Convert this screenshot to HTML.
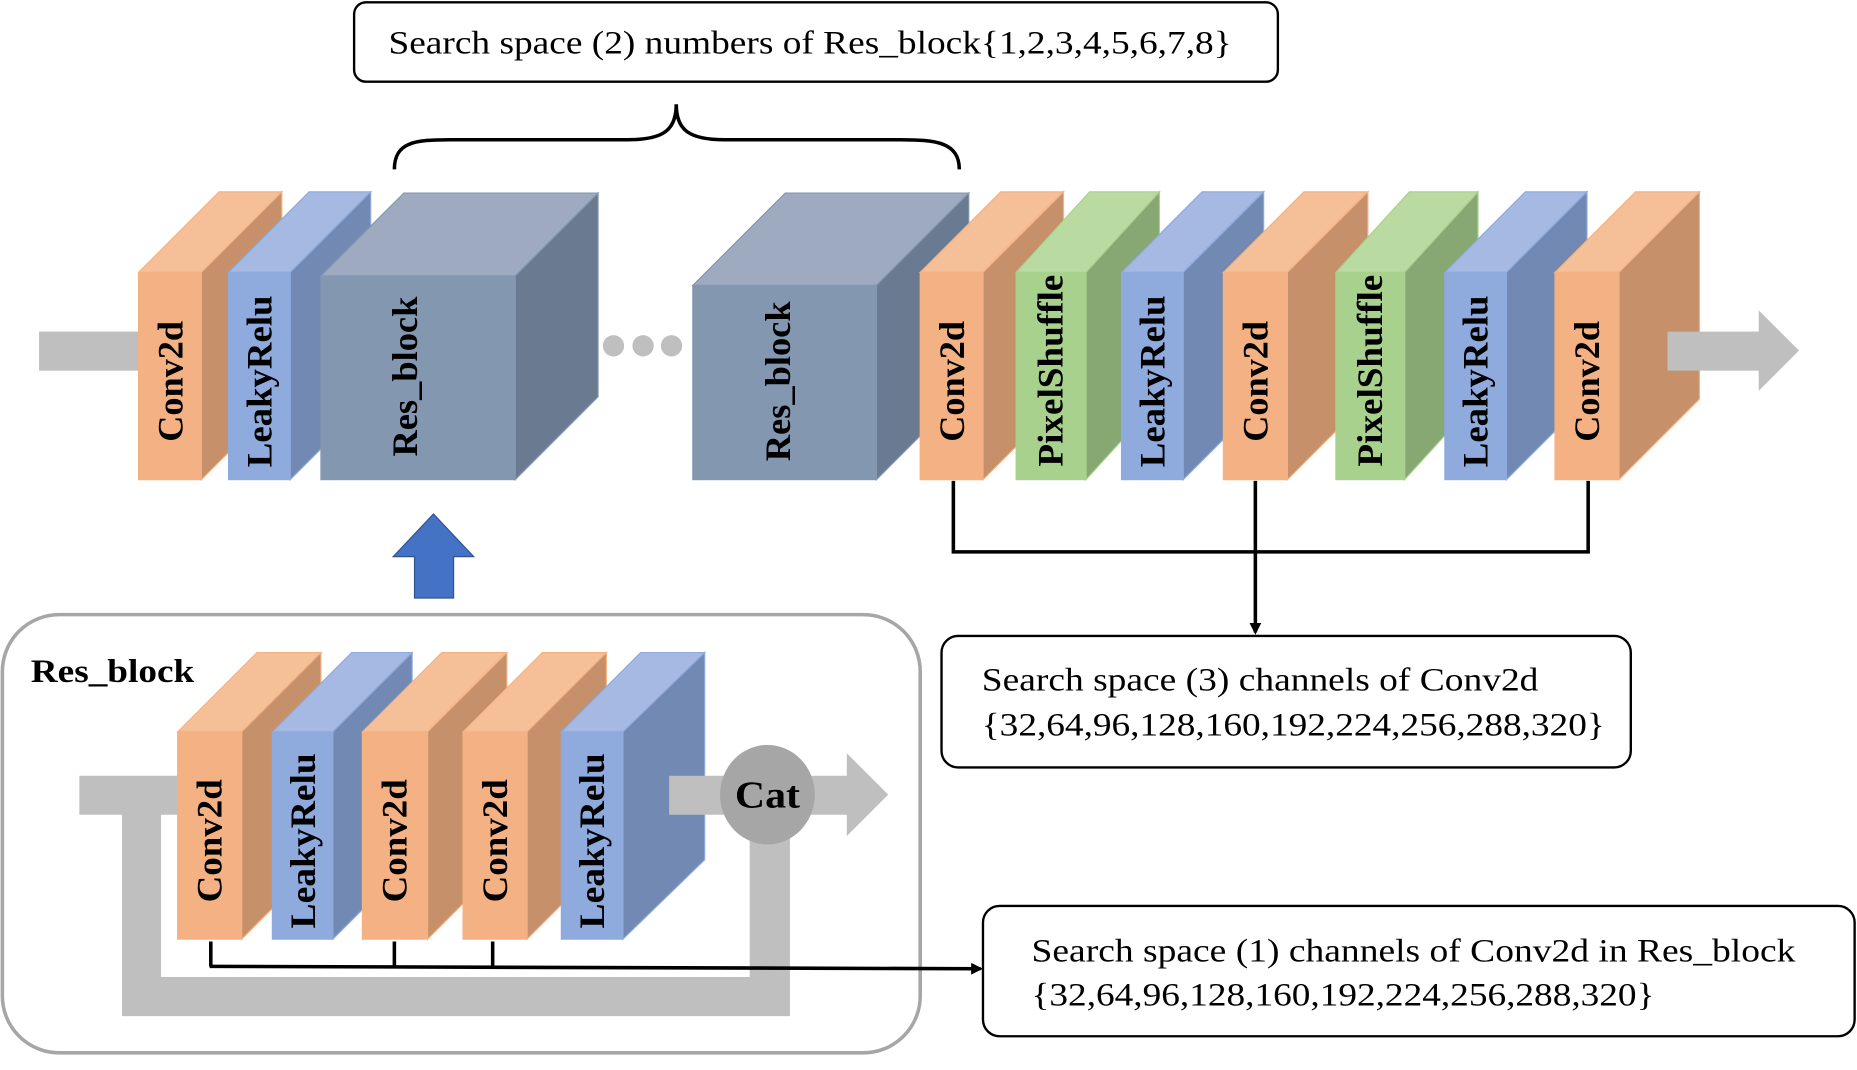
<!DOCTYPE html>
<html><head><meta charset="utf-8"><style>html,body{margin:0;padding:0;background:#fff}svg{display:block}</style></head>
<body>
<svg width="1857" height="1070" viewBox="0 0 1568 903.5" preserveAspectRatio="none" xmlns="http://www.w3.org/2000/svg" font-family="'Liberation Serif', serif">
<defs>
<marker id="ah" markerWidth="10" markerHeight="10" refX="8" refY="5" orient="auto" markerUnits="userSpaceOnUse"><path d="M0,0 L10,5 L0,10 z" fill="#000"/></marker>
</defs>
<rect x="299" y="2" width="780" height="67" rx="10" fill="#fff" stroke="#000" stroke-width="2"/>
<text x="328" y="45" font-size="28" textLength="712" lengthAdjust="spacingAndGlyphs">Search space (2) numbers of Res_block{1,2,3,4,5,6,7,8}</text>
<path d="M333,143 C333,120 350,118 380,118 L530,118 C560,118 571,110 571,88 C571,110 582,118 612,118 L760,118 C790,118 810,120 810,143" fill="none" stroke="#000" stroke-width="3"/>
<rect x="33" y="280" width="90" height="33" fill="#bfbfbf"/>
<circle cx="518" cy="292" r="9" fill="#bfbfbf"/><circle cx="543" cy="292" r="9" fill="#bfbfbf"/><circle cx="567" cy="292" r="9" fill="#bfbfbf"/>
<g stroke-width="1">
<g stroke="#F4B183"><polygon points="117,230 185,162 238,162 170,230" fill="#F5BF98"/><polygon points="170,230 238,162 238,337 170,405" fill="#C5906A"/><rect x="117" y="230" width="53" height="175" fill="#F4B183"/></g>
<g stroke="#8FAADC"><polygon points="193,230 261,162 313,162 245,230" fill="#A5B9E2"/><polygon points="245,230 313,162 313,337 245,405" fill="#7189B3"/><rect x="193" y="230" width="52" height="175" fill="#8FAADC"/></g>
<g stroke="#8497B0"><polygon points="271,233 341,163 505,163 435,233" fill="#9DAAC0"/><polygon points="435,233 505,163 505,335 435,405" fill="#6A7A90"/><rect x="271" y="233" width="164" height="172" fill="#8497B0"/></g>
<g stroke="#8497B0"><polygon points="585,241 663,163 818,163 740,241" fill="#9DAAC0"/><polygon points="740,241 818,163 818,327 740,405" fill="#6A7A90"/><rect x="585" y="241" width="155" height="164" fill="#8497B0"/></g>
<g stroke="#F4B183"><polygon points="777,230 845,162 898,162 830,230" fill="#F5BF98"/><polygon points="830,230 898,162 898,337 830,405" fill="#C5906A"/><rect x="777" y="230" width="53" height="175" fill="#F4B183"/></g>
<g stroke="#A9D18E"><polygon points="858,230 920,162 979,162 917,230" fill="#B9DBA2"/><polygon points="917,230 979,162 979,337 917,405" fill="#87A872"/><rect x="858" y="230" width="59" height="175" fill="#A9D18E"/></g>
<g stroke="#8FAADC"><polygon points="947,230 1015,162 1067,162 999,230" fill="#A5B9E2"/><polygon points="999,230 1067,162 1067,337 999,405" fill="#7189B3"/><rect x="947" y="230" width="52" height="175" fill="#8FAADC"/></g>
<g stroke="#F4B183"><polygon points="1033,230 1101,162 1155,162 1087,230" fill="#F5BF98"/><polygon points="1087,230 1155,162 1155,337 1087,405" fill="#C5906A"/><rect x="1033" y="230" width="54" height="175" fill="#F4B183"/></g>
<g stroke="#A9D18E"><polygon points="1128,230 1190,162 1248,162 1186,230" fill="#B9DBA2"/><polygon points="1186,230 1248,162 1248,337 1186,405" fill="#87A872"/><rect x="1128" y="230" width="58" height="175" fill="#A9D18E"/></g>
<g stroke="#8FAADC"><polygon points="1220,230 1288,162 1340,162 1272,230" fill="#A5B9E2"/><polygon points="1272,230 1340,162 1340,337 1272,405" fill="#7189B3"/><rect x="1220" y="230" width="52" height="175" fill="#8FAADC"/></g>
<g stroke="#F4B183"><polygon points="1313,230 1381,162 1435,162 1367,230" fill="#F5BF98"/><polygon points="1367,230 1435,162 1435,337 1367,405" fill="#C5906A"/><rect x="1313" y="230" width="54" height="175" fill="#F4B183"/></g>
</g>
<polygon points="1408,280 1485,280 1485,262 1519,296 1485,330 1485,313 1408,313" fill="#bfbfbf"/>
<g font-weight="bold" font-size="30" text-anchor="middle" dominant-baseline="central">
<text transform="translate(144,322) rotate(-90)" textLength="102" lengthAdjust="spacingAndGlyphs">Conv2d</text>
<text transform="translate(219,322) rotate(-90)" textLength="145" lengthAdjust="spacingAndGlyphs">LeakyRelu</text>
<text transform="translate(342,318) rotate(-90)" textLength="135" lengthAdjust="spacingAndGlyphs">Res_block</text>
<text transform="translate(657,322) rotate(-90)" textLength="135" lengthAdjust="spacingAndGlyphs">Res_block</text>
<text transform="translate(804,322) rotate(-90)" textLength="102" lengthAdjust="spacingAndGlyphs">Conv2d</text>
<text transform="translate(887,313) rotate(-90)" textLength="162" lengthAdjust="spacingAndGlyphs">PixelShuffle</text>
<text transform="translate(973,322) rotate(-90)" textLength="145" lengthAdjust="spacingAndGlyphs">LeakyRelu</text>
<text transform="translate(1060,322) rotate(-90)" textLength="102" lengthAdjust="spacingAndGlyphs">Conv2d</text>
<text transform="translate(1157,313) rotate(-90)" textLength="162" lengthAdjust="spacingAndGlyphs">PixelShuffle</text>
<text transform="translate(1246,322) rotate(-90)" textLength="145" lengthAdjust="spacingAndGlyphs">LeakyRelu</text>
<text transform="translate(1340,322) rotate(-90)" textLength="102" lengthAdjust="spacingAndGlyphs">Conv2d</text>
</g>
<path d="M805,406 V466 H1341 V406" fill="none" stroke="#000" stroke-width="3"/>
<line x1="1060" y1="406" x2="1060" y2="534" stroke="#000" stroke-width="3" marker-end="url(#ah)"/>
<rect x="795" y="537" width="582" height="111" rx="14" fill="#fff" stroke="#000" stroke-width="2"/>
<text x="829" y="583" font-size="28" textLength="470" lengthAdjust="spacingAndGlyphs">Search space (3) channels of Conv2d</text>
<text x="829" y="621" font-size="28" textLength="526" lengthAdjust="spacingAndGlyphs">{32,64,96,128,160,192,224,256,288,320}</text>
<polygon points="350,505 383,505 383,470 400,470 366,434 332,470 350,470" fill="#4472C4" stroke="#2F528F" stroke-width="1"/>
<rect x="2" y="519" width="775" height="370" rx="48" fill="none" stroke="#a6a6a6" stroke-width="3"/>
<text x="26" y="576" font-size="28" font-weight="bold" textLength="138" lengthAdjust="spacingAndGlyphs">Res_block</text>
<path d="M67,655 H150 V688 H136 V825 H633 V700 H667 V858 H103 V688 H67 Z" fill="#bfbfbf"/>
<g stroke-width="1">
<g stroke="#F4B183"><polygon points="150,618 217,551 271,551 204,618" fill="#F5BF98"/><polygon points="204,618 271,551 271,726 204,793" fill="#C5906A"/><rect x="150" y="618" width="54" height="175" fill="#F4B183"/></g>
<g stroke="#8FAADC"><polygon points="230,618 297,551 348,551 281,618" fill="#A5B9E2"/><polygon points="281,618 348,551 348,726 281,793" fill="#7189B3"/><rect x="230" y="618" width="51" height="175" fill="#8FAADC"/></g>
<g stroke="#F4B183"><polygon points="306,618 373,551 428,551 361,618" fill="#F5BF98"/><polygon points="361,618 428,551 428,726 361,793" fill="#C5906A"/><rect x="306" y="618" width="55" height="175" fill="#F4B183"/></g>
<g stroke="#F4B183"><polygon points="391,618 458,551 512,551 445,618" fill="#F5BF98"/><polygon points="445,618 512,551 512,726 445,793" fill="#C5906A"/><rect x="391" y="618" width="54" height="175" fill="#F4B183"/></g>
<g stroke="#8FAADC"><polygon points="474,618 541,551 595,551 526,618" fill="#A5B9E2"/><polygon points="526,618 595,551 595,726 526,793" fill="#7189B3"/><rect x="474" y="618" width="52" height="175" fill="#8FAADC"/></g>
</g>
<polygon points="565,655 715,655 715,636 750,671 715,706 715,688 565,688" fill="#bfbfbf"/>
<ellipse cx="648" cy="671" rx="40" ry="42" fill="#a6a6a6"/>
<text x="648" y="682" font-size="32" font-weight="bold" text-anchor="middle" textLength="55" lengthAdjust="spacingAndGlyphs">Cat</text>
<g font-weight="bold" font-size="30" text-anchor="middle" dominant-baseline="central">
<text transform="translate(177,710) rotate(-90)" textLength="104" lengthAdjust="spacingAndGlyphs">Conv2d</text>
<text transform="translate(256,710) rotate(-90)" textLength="148" lengthAdjust="spacingAndGlyphs">LeakyRelu</text>
<text transform="translate(333,710) rotate(-90)" textLength="104" lengthAdjust="spacingAndGlyphs">Conv2d</text>
<text transform="translate(418,710) rotate(-90)" textLength="104" lengthAdjust="spacingAndGlyphs">Conv2d</text>
<text transform="translate(500,710) rotate(-90)" textLength="148" lengthAdjust="spacingAndGlyphs">LeakyRelu</text>
</g>
<path d="M178,795 V816 M333,795 V816 M416,795 V816" stroke="#000" stroke-width="3"/>
<line x1="177" y1="816" x2="828" y2="818" stroke="#000" stroke-width="3" marker-end="url(#ah)"/>
<rect x="830" y="765" width="736" height="110" rx="14" fill="#fff" stroke="#000" stroke-width="2"/>
<text x="871" y="812" font-size="28" textLength="645" lengthAdjust="spacingAndGlyphs">Search space (1) channels of Conv2d in Res_block</text>
<text x="871" y="849" font-size="28" textLength="526" lengthAdjust="spacingAndGlyphs">{32,64,96,128,160,192,224,256,288,320}</text>
</svg>
</body></html>
